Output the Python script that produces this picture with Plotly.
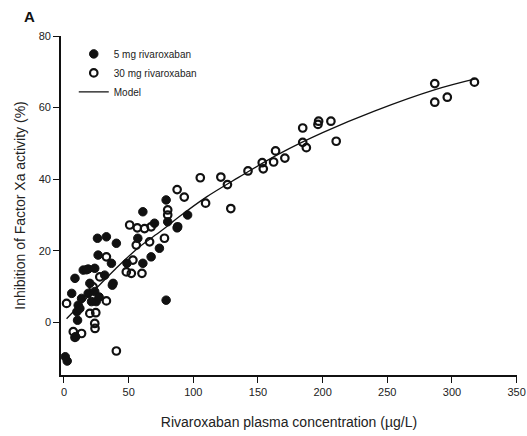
import plotly.graph_objects as go

# 5 mg rivaroxaban (filled circles)
x_5mg = [1, 2.5, 6, 8.5, 10, 10.5, 11, 9, 13.6, 14.9, 18.7, 18.7, 20, 23.8, 23.8, 24.9, 21.3,
         25.9, 26.4, 31.5, 32.8, 36.7, 38, 40.5, 37.4, 48.7, 57.1, 61, 61, 67.4, 70, 73.8, 79,
         79, 80.2, 87.5, 95.6, 12.3, 17.4, 27.2]
y_5mg = [-9.6, -10.8, 8.1, 12.3, 3, 0.6, 4.8, -4, 6.7, 14.6, 14.9, 8.1, 10.9, 15.1, 8.6, 5.8, 5.8,
         23.5, 18.8, 13.2, 23.9, 16.5, 10.9, 22.1, 10.4, 16.5, 23.5, 30.9, 16.5, 18.3, 27.7, 20.7, 34.2,
         6.2, 28.1, 26.4, 30, 3.9, 14.7, 7.1]

# 30 mg rivaroxaban (open circles)
x_30mg = [2, 7.2, 13.6, 8.5, 20, 23.8, 24, 32.8, 27.7, 32.8, 40.5, 48.2, 52.1, 53.3, 60.3, 50.8,
          56.7, 62.3, 67.4, 55.9, 66.2, 77.7, 80.2, 80.2, 87.9, 87.5, 93, 105.4, 109.5, 121.3, 126.4,
          129, 142.3, 153.3, 154.1, 162.1, 163.6, 170.8, 184.6, 184.6, 187.4, 196.4, 196.9, 206.4,
          210.5, 286.7, 286.7, 296.4, 317.4, 24.6, 22.5]
y_30mg = [5.3, -2.6, -3.1, -4.2, 2.5, -0.3, -1.7, 6, 12.7, 18.3, -8, 14.1, 13.7, 17.4, 13.7, 27.2,
          26.4, 26.2, 26.7, 21.6, 22.5, 23.5, 31.4, 30, 26.7, 37.1, 35, 40.4, 33.3, 40.6, 38.5,
          31.8, 42.3, 44.6, 42.9, 44.8, 47.9, 45.9, 54.3, 50.3, 48.8, 55.3, 56.2, 56.2,
          50.6, 66.7, 61.5, 62.9, 67.1, 2.7, 9.9]

# Model curve
x_model = [2, 10, 25, 40, 58, 75, 89, 110, 135, 166, 200, 240, 287, 318]
y_model = [1, 4, 9.5, 15, 21, 25.5, 29.5, 35, 40.5, 47, 53, 59, 65, 68]

x_ticks = [0, 50, 100, 150, 200, 250, 300, 350]
y_ticks = [0, 20, 40, 60, 80]

FONT = "Liberation Sans, Arial, sans-serif"
TXT = "#222222"

fig = go.Figure()
fig.add_trace(go.Scatter(
    x=x_5mg, y=y_5mg, mode="markers", name="5 mg rivaroxaban",
    marker=dict(symbol="circle", size=8.5, color="#111111", line=dict(color="#111111", width=1)),
))
fig.add_trace(go.Scatter(
    x=x_30mg, y=y_30mg, mode="markers", name="30 mg rivaroxaban",
    marker=dict(symbol="circle-open", size=7.5, color="#111111", line=dict(color="#111111", width=2.2)),
))
fig.add_trace(go.Scatter(
    x=x_model, y=y_model, mode="lines", name="Model", line_shape="spline",
    line=dict(color="#111111", width=1.3),
))

fig.update_layout(
    width=527, height=436,
    margin=dict(l=61, r=10, t=36, b=61),
    paper_bgcolor="white", plot_bgcolor="white",
    font=dict(family=FONT, color=TXT, size=11),
    showlegend=True,
    legend=dict(x=0.028, y=0.99, xanchor="left", yanchor="top",
                font=dict(size=10, family=FONT, color=TXT),
                bgcolor="rgba(0,0,0,0)", tracegroupgap=0),
    annotations=[dict(text="<b>A</b>", x=0, y=1, xref="paper", yref="paper",
                      xshift=-39, yshift=9, showarrow=False, font=dict(size=15, color="#111111"),
                      xanchor="left", yanchor="bottom")],
)
fig.update_xaxes(
    range=[-2.3, 350.3], tickvals=x_ticks, showgrid=False, zeroline=False, automargin=False,
    showline=True, linecolor="#111111", linewidth=1.6,
    ticks="outside", ticklen=6, tickwidth=1.4, tickcolor="#111111",
    tickfont=dict(size=11, color=TXT), ticklabeloverflow="allow",
    title=dict(text="Rivaroxaban plasma concentration (µg/L)", font=dict(size=14, color=TXT), standoff=20),
)
fig.update_yaxes(
    range=[-14.7, 80], tickvals=y_ticks, showgrid=False, zeroline=False, automargin=False,
    showline=True, linecolor="#111111", linewidth=1.6,
    ticks="outside", ticklen=6, tickwidth=1.4, tickcolor="#111111",
    tickfont=dict(size=11, color=TXT),
    title=dict(text="Inhibition of Factor Xa activity (%)", font=dict(size=14, color=TXT), standoff=10),
)

fig.write_html("out.html")
